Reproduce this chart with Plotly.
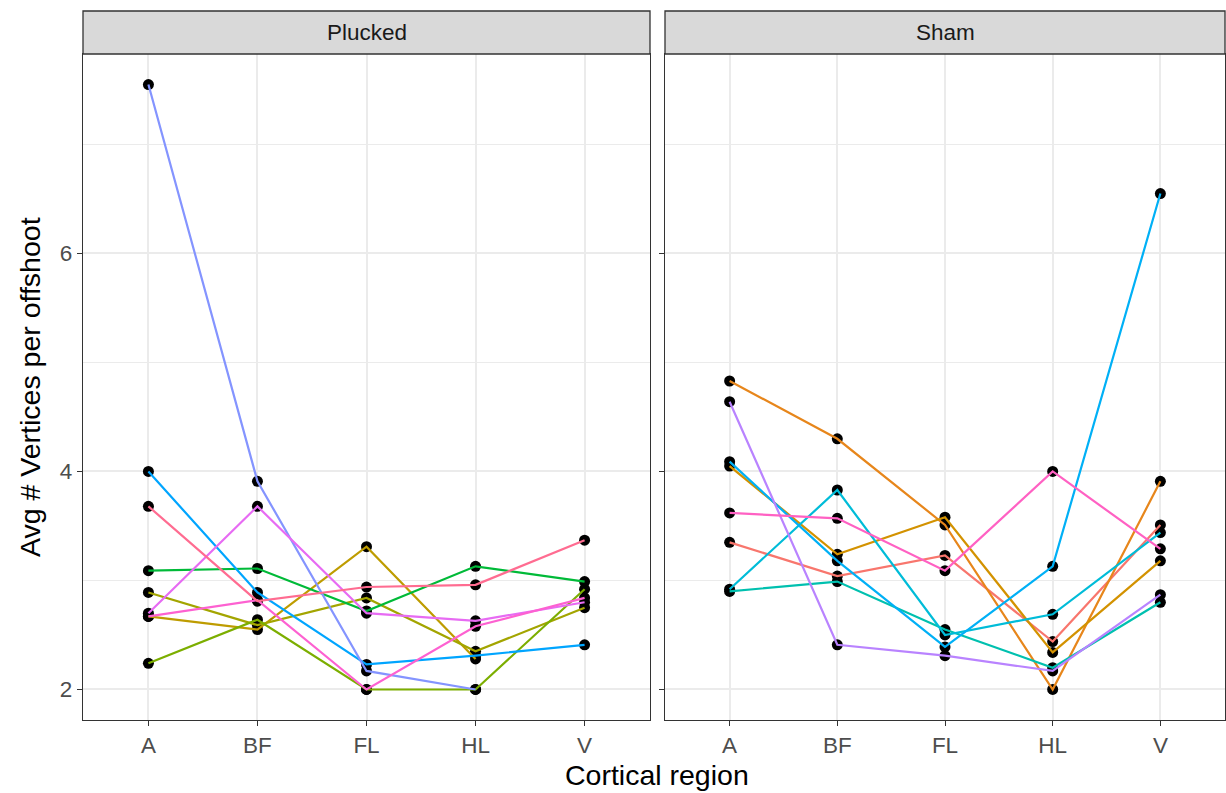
import plotly.graph_objects as go
from plotly.subplots import make_subplots

# Cortical regions on the x axis
regions = ["A", "BF", "FL", "HL", "V"]
groups = ["Plucked", "Sham"]

# Average number of vertices per offshoot, one list per animal (A, BF, FL, HL, V)
animal_01 = [3.35, 3.04, 3.23, 2.44, 3.51]   # Sham
animal_02 = [4.83, 4.30, 3.51, 2.00, 3.91]   # Sham
animal_03 = [4.05, 3.24, 3.58, 2.34, 3.18]   # Sham
animal_04 = [2.67, 2.55, 3.31, 2.28, None]   # Plucked
animal_05 = [2.89, 2.59, 2.84, 2.35, 2.75]   # Plucked
animal_06 = [2.24, 2.64, 2.00, 2.00, 2.92]   # Plucked
animal_07 = [3.09, 3.11, 2.72, 3.13, 2.99]   # Plucked
animal_08 = [2.90, 2.99, 2.55, 2.20, 2.80]   # Sham
animal_09 = [2.92, 3.83, 2.50, 2.69, 3.44]   # Sham
animal_10 = [4.09, 3.18, 2.39, 3.13, 6.55]   # Sham
animal_11 = [4.00, 2.89, 2.23, 2.31, 2.41]   # Plucked
animal_12 = [7.55, 3.91, 2.17, 2.00, None]   # Plucked
animal_13 = [4.64, 2.41, 2.31, 2.17, 2.87]   # Sham
animal_14 = [2.70, 3.68, 2.70, 2.63, 2.80]   # Plucked
animal_15 = [2.67, 2.82, 2.00, 2.58, 2.84]   # Plucked
animal_16 = [3.62, 3.57, 3.09, 4.00, 3.29]   # Sham
animal_17 = [3.68, 2.81, 2.94, 2.96, 3.37]   # Plucked

animals = [animal_01, animal_02, animal_03, animal_04, animal_05, animal_06,
           animal_07, animal_08, animal_09, animal_10, animal_11, animal_12,
           animal_13, animal_14, animal_15, animal_16, animal_17]
animal_group = ["Sham", "Sham", "Sham", "Plucked", "Plucked", "Plucked",
                "Plucked", "Sham", "Sham", "Sham", "Plucked", "Plucked",
                "Sham", "Plucked", "Plucked", "Sham", "Plucked"]

y_ticks = [2, 4, 6]

# one hue per animal
palette = ["#F8766D", "#E7861B", "#D39200", "#BE9C00", "#A3A500", "#7CAE00",
           "#00BA38", "#00C0AF", "#00BCD8", "#00B0F6", "#00A5FF", "#8494FF",
           "#B983FF", "#E76BF3", "#FD61D1", "#FF61C3", "#FF6C91"]

n = len(animals)

W, H = 1226, 793
ml, mr, mt, mb = 83, 1, 54, 73
pw = W - ml - mr
ph = H - mt - mb
panel_w = 567
gap = 15
FONT = "Liberation Sans, Arial"

fig = make_subplots(rows=1, cols=2, shared_yaxes=True,
                    horizontal_spacing=gap / pw)

for col, grp in enumerate(groups, start=1):
    members = [i for i in range(n) if animal_group[i] == grp]
    # points first, lines drawn over them
    px, py = [], []
    for i in members:
        for r, v in zip(regions, animals[i]):
            if v is not None:
                px.append(r)
                py.append(v)
    fig.add_trace(go.Scatter(x=px, y=py, mode="markers",
                             marker=dict(color="black", size=11),
                             showlegend=False, hoverinfo="skip"),
                  row=1, col=col)
    for i in members:
        fig.add_trace(go.Scatter(x=regions, y=animals[i], mode="lines",
                                 line=dict(color=palette[i], width=2.2),
                                 connectgaps=False, showlegend=False,
                                 name="animal %02d" % (i + 1)),
                      row=1, col=col)

d1 = panel_w / pw
d2 = (panel_w + gap) / pw
axis_common = dict(showline=True, mirror=True, linecolor="#333333", linewidth=1.3,
                   ticks="outside", ticklen=5, tickwidth=1.3, tickcolor="#333333",
                   gridcolor="#EBEBEB", gridwidth=2.2, zeroline=False,
                   tickfont=dict(family=FONT, size=22.5, color="#4D4D4D"))

fig.update_xaxes(type="category", categoryorder="array", categoryarray=regions,
                 range=[-0.6, 4.6], **axis_common)
fig.update_yaxes(range=[1.72, 7.83], tickvals=y_ticks, **axis_common,
                 minor=dict(tickvals=[3, 5, 7], showgrid=True, gridcolor="#EBEBEB",
                            gridwidth=1.1, ticks=""))
fig.update_layout(xaxis=dict(domain=[0, d1]), xaxis2=dict(domain=[d2, 1]))

# facet strips
strip_top = 1 + 43 / ph
for (x0, x1), grp in zip([(0, d1), (d2, 1)], groups):
    fig.add_shape(type="rect", xref="paper", yref="paper",
                  x0=x0, x1=x1, y0=1, y1=strip_top,
                  fillcolor="#D9D9D9", line=dict(color="#333333", width=1.3),
                  layer="above")
    fig.add_annotation(xref="paper", yref="paper", x=(x0 + x1) / 2,
                       y=(1 + strip_top) / 2, text=grp, showarrow=False,
                       font=dict(family=FONT, size=22.5, color="#1A1A1A"),
                       xanchor="center", yanchor="middle")

# axis titles
fig.add_annotation(xref="paper", yref="paper", x=(657 - ml) / pw,
                   y=-(775 - (mt + ph)) / ph, text="Cortical region",
                   showarrow=False, xanchor="center", yanchor="middle",
                   font=dict(family=FONT, size=28.5, color="black"))
fig.add_annotation(xref="paper", yref="paper", x=(30 - ml) / pw,
                   y=1 - (387 - mt) / ph, text="Avg # Vertices per offshoot",
                   textangle=-90, showarrow=False, xanchor="center", yanchor="middle",
                   font=dict(family=FONT, size=28.5, color="black"))

fig.update_layout(width=W, height=H, margin=dict(l=ml, r=mr, t=mt, b=mb),
                  plot_bgcolor="white", paper_bgcolor="white", showlegend=False)

fig.write_html("out.html")
